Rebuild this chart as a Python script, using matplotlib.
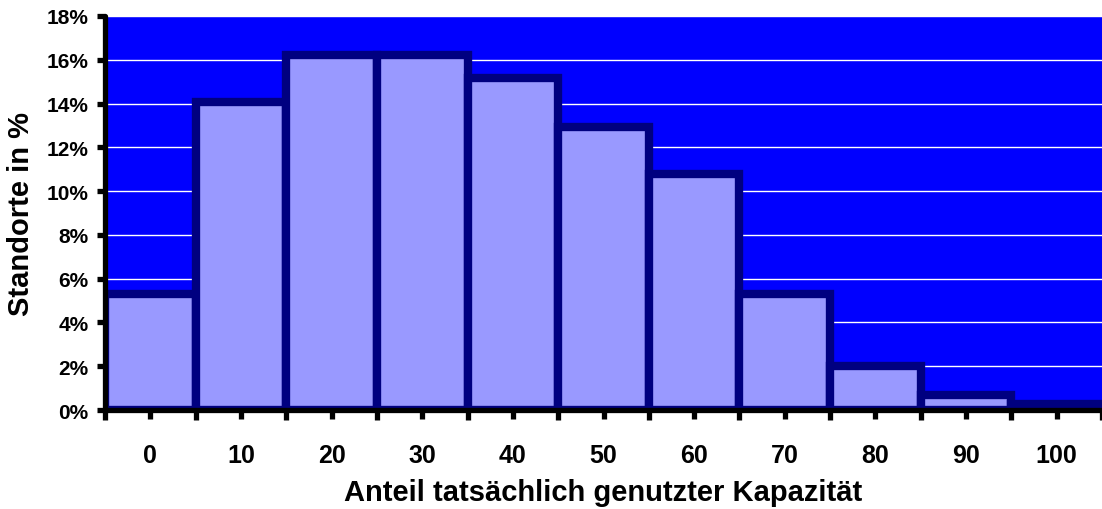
import matplotlib.pyplot as plt
from matplotlib.ticker import FuncFormatter
import numpy as np

plt.rcParams['font.family'] = ['Liberation Sans', 'DejaVu Sans']
plt.rcParams['font.weight'] = 'bold'

kapazitaet = ['0', '10', '20', '30', '40', '50', '60', '70', '80', '90', '100']
standorte = [5.3, 14.05, 16.2, 16.2, 15.15, 12.95, 10.8, 5.3, 2.0, 0.7, 0.27]

fig = plt.figure(figsize=(11.02, 5.10), dpi=100)
ax = fig.add_axes([0.0953, 0.194, 0.9047, 0.7727])
ax.set_facecolor('#0000FF')

x = np.arange(len(kapazitaet))
ax.bar(x, standorte, width=1.0, color='#9999FF', edgecolor='#000080',
       linewidth=6, zorder=2)

ax.set_xlim(-0.5, len(kapazitaet) - 0.5)
ax.set_ylim(0, 18)
ax.set_yticks(np.arange(0, 19, 2))
ax.yaxis.set_major_formatter(FuncFormatter(lambda v, p: '%d%%' % v))
ax.grid(axis='y', color='white', linewidth=1.0, zorder=1)
ax.set_axisbelow(True)

# labels at the bar centres, tick marks between the bars
ax.set_xticks(x)
ax.set_xticklabels(kapazitaet)
ax.set_xticks(np.arange(-0.5, len(kapazitaet)), minor=True)
ax.tick_params(axis='x', which='major', direction='inout', length=13, width=3.8,
               labelsize=18, pad=17, color='black')
ax.tick_params(axis='x', which='minor', direction='out', length=7, width=3.8,
               color='black')
ax.tick_params(axis='y', direction='out', length=6, width=3.8, labelsize=15, pad=6)
for t in ax.xaxis.get_ticklines(minor=False) + ax.xaxis.get_ticklines(minor=True) + ax.yaxis.get_ticklines():
    t.set_solid_capstyle('round')

for side in ('top', 'right'):
    ax.spines[side].set_visible(False)
for side in ('left', 'bottom'):
    ax.spines[side].set_linewidth(3.8)
    ax.spines[side].set_zorder(5)
    ax.spines[side].set_capstyle('round')

ax.set_xlabel('Anteil tatsächlich genutzter Kapazität', fontsize=21,
              fontweight='bold', labelpad=8)
ax.set_ylabel('Standorte in %', fontsize=21, fontweight='bold', labelpad=8)

fig.savefig('out.png', dpi=100)
